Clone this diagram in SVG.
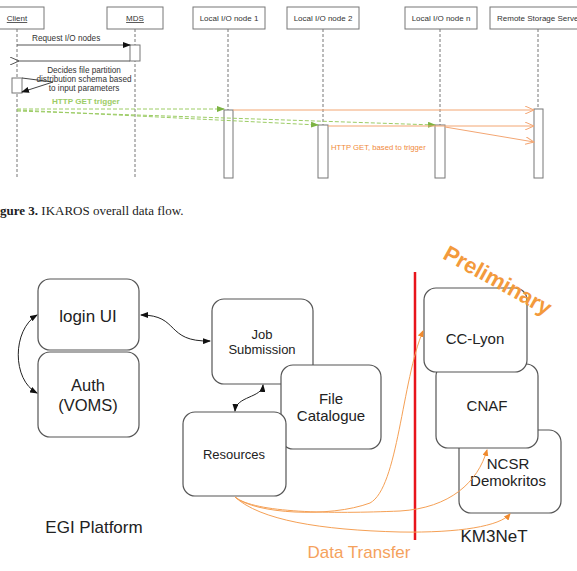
<svg xmlns="http://www.w3.org/2000/svg" width="577" height="571" viewBox="0 0 577 571">
<style>
.bx{fill:#fff;stroke:#777;stroke-width:1}
.ll{stroke:#777;stroke-width:1;stroke-dasharray:3,2;fill:none}
.act{fill:#fff;stroke:#777;stroke-width:1}
.t8{font-family:"Liberation Sans",Arial,sans-serif;font-size:8px;fill:#333;text-anchor:middle}
.msg{font-family:"Liberation Sans",Arial,sans-serif;font-size:8.2px;fill:#333}
.gr{stroke:#9ccc65;stroke-width:1;stroke-dasharray:4,2;fill:none}
.or{stroke:#f3a673;stroke-width:1;fill:none}
.rb{fill:#fff;stroke:#555;stroke-width:1.2}
.lb{font-family:"Liberation Sans",Arial,sans-serif;fill:#222;text-anchor:middle}
.blk{stroke:#222;stroke-width:1;fill:none}
.oc{stroke:#f5a055;stroke-width:1;fill:none}
</style>
<defs>
<marker id="ab" markerWidth="8" markerHeight="6" refX="7" refY="3" orient="auto-start-reverse" markerUnits="userSpaceOnUse"><path d="M0,0 L8,3 L0,6 z" fill="#111"/></marker>
<marker id="ao" markerWidth="10" markerHeight="8" refX="9" refY="4" orient="auto" markerUnits="userSpaceOnUse"><path d="M0,0 L9,4 L0,8" fill="none" stroke="#f3a673" stroke-width="1"/></marker>
<marker id="aopen" markerWidth="10" markerHeight="8" refX="1" refY="4" orient="auto-start-reverse" markerUnits="userSpaceOnUse"><path d="M9,0 L0,4 L9,8" fill="none" stroke="#555" stroke-width="1"/></marker>
<marker id="ag" markerWidth="8" markerHeight="6" refX="7" refY="3" orient="auto" markerUnits="userSpaceOnUse"><path d="M0,0 L8,3 L0,6 z" fill="#7cb342"/></marker>
<marker id="af" markerWidth="7" markerHeight="6" refX="6" refY="3" orient="auto" markerUnits="userSpaceOnUse"><path d="M0,0 L7,3 L0,6 z" fill="#f08a2e"/></marker>
</defs>

<!-- Sequence diagram -->
<g id="client">
<rect class="bx" x="-11" y="7" width="55" height="22"/>
<text class="t8" x="17" y="21" text-decoration="underline">Client</text>
<line class="ll" x1="17" y1="29" x2="17" y2="178"/>
<rect class="act" x="12" y="78" width="10" height="15"/>
</g>
<g id="mds">
<rect class="bx" x="107" y="7" width="56" height="22"/>
<text class="t8" x="135" y="21" text-decoration="underline">MDS</text>
<line class="ll" x1="135" y1="29" x2="135" y2="178"/>
<rect class="act" x="130" y="45" width="10" height="16"/>
</g>
<g id="node1">
<rect class="bx" x="193" y="7" width="72" height="22"/>
<text class="t8" x="229" y="21">Local I/O node 1</text>
<line class="ll" x1="228" y1="29" x2="228" y2="110"/>
<rect class="act" x="224" y="110" width="9" height="68"/>
</g>
<g id="node2">
<rect class="bx" x="287" y="7" width="72" height="22"/>
<text class="t8" x="323" y="21">Local I/O node 2</text>
<line class="ll" x1="323" y1="29" x2="323" y2="125"/>
<rect class="act" x="318" y="125" width="10" height="53"/>
</g>
<g id="noden">
<rect class="bx" x="405" y="7" width="72" height="22"/>
<text class="t8" x="441" y="21">Local I/O node n</text>
<line class="ll" x1="440" y1="29" x2="440" y2="125"/>
<rect class="act" x="435" y="125" width="10" height="53"/>
</g>
<g id="remote">
<rect class="bx" x="490" y="7" width="100" height="22"/>
<text x="497" y="21" font-family="'Liberation Sans',Arial,sans-serif" font-size="8" fill="#333">Remote Storage Serve</text>
<line class="ll" x1="538" y1="29" x2="538" y2="109"/>
<rect class="act" x="534" y="109" width="9" height="69"/>
</g>

<g id="seq-connectors">
<line x1="17" y1="45" x2="130" y2="45" stroke="#555" stroke-width="1" marker-end="url(#ab)"/>
<text class="msg" x="32" y="41">Request I/O nodes</text>
<line x1="130" y1="61" x2="18" y2="61" stroke="#555" stroke-width="1" marker-end="url(#aopen)"/>
<polyline points="22,78 53,82 22,92" fill="none" stroke="#444" stroke-width="1" marker-end="url(#ab)"/>
<text class="msg" text-anchor="middle" x="84" y="73">Decides file partition</text>
<text class="msg" text-anchor="middle" x="84" y="82">distribution schema based</text>
<text class="msg" text-anchor="middle" x="84" y="91">to input parameters</text>
<text x="52" y="104" font-family="'Liberation Sans',Arial,sans-serif" font-size="8.1" font-weight="bold" fill="#9ccc65">HTTP GET trigger</text>
<line class="gr" x1="17" y1="109" x2="224" y2="109" marker-end="url(#ag)"/>
<line class="gr" x1="17" y1="110" x2="318" y2="125" marker-end="url(#ag)"/>
<line class="gr" x1="17" y1="111" x2="435" y2="125" marker-end="url(#ag)"/>
<line class="or" x1="233" y1="110" x2="534" y2="110" marker-end="url(#ao)"/>
<line class="or" x1="328" y1="126" x2="534" y2="126" marker-end="url(#ao)"/>
<line class="or" x1="445" y1="127" x2="534" y2="142" marker-end="url(#ao)"/>
<text x="331" y="150" font-family="'Liberation Sans',Arial,sans-serif" font-size="7.7" fill="#f08a3c">HTTP GET, based to trigger</text>
</g>

<text x="0" y="215" font-family="'Liberation Serif','Times New Roman',serif" font-size="13" fill="#222"><tspan font-weight="bold">gure 3.</tspan> IKAROS overall data flow.</text>

<!-- Lower diagram -->
<g id="login">
<rect class="rb" x="38" y="279" width="101" height="71" rx="12"/>
<text class="lb" x="88" y="322" font-size="17">login UI</text>
</g>
<g id="auth">
<rect class="rb" x="38" y="352" width="101" height="85" rx="12"/>
<text class="lb" x="88" y="391" font-size="16.5">Auth</text>
<text class="lb" x="88" y="411" font-size="16.5">(VOMS)</text>
</g>
<g id="jobsub">
<rect class="rb" x="212" y="299" width="101" height="85" rx="12"/>
<text class="lb" x="262" y="339" font-size="13">Job</text>
<text class="lb" x="262" y="354" font-size="13">Submission</text>
</g>
<g id="filecat">
<rect class="rb" x="281" y="365" width="100" height="84" rx="12"/>
<text class="lb" x="331" y="404" font-size="15">File</text>
<text class="lb" x="331" y="421" font-size="15">Catalogue</text>
</g>
<g id="resources">
<rect class="rb" x="183" y="412" width="103" height="84" rx="12"/>
<text class="lb" x="234" y="459" font-size="13">Resources</text>
</g>
<g id="ncsr">
<rect class="rb" x="459" y="430" width="102" height="83" rx="12"/>
<text class="lb" x="508" y="469" font-size="15">NCSR</text>
<text class="lb" x="508" y="486" font-size="15">Demokritos</text>
</g>
<g id="cnaf">
<rect class="rb" x="436" y="364" width="102" height="84" rx="12"/>
<text class="lb" x="487" y="411" font-size="15">CNAF</text>
</g>
<g id="cclyon">
<rect class="rb" x="424" y="288" width="103" height="84" rx="12"/>
<text class="lb" x="475" y="344" font-size="15">CC-Lyon</text>
</g>

<line x1="415" y1="272" x2="415" y2="540" stroke="#e8141b" stroke-width="2.5"/>
<text transform="translate(498,280) rotate(29)" x="0" y="8" text-anchor="middle" font-family="'Liberation Sans',Arial,sans-serif" font-size="22" font-weight="bold" fill="#f39a3c">Preliminary</text>
<text class="lb" x="94" y="533" font-size="17">EGI Platform</text>
<text class="lb" x="494" y="542" font-size="17">KM3NeT</text>
<text x="359" y="558" text-anchor="middle" font-family="'Liberation Sans',Arial,sans-serif" font-size="17" fill="#f5a25d">Data Transfer</text>

<g id="connectors">
<path class="blk" d="M37,315 C12,330 12,380 37,393" marker-start="url(#ab)" marker-end="url(#ab)"/>
<path class="blk" d="M141,315 C180,315 165,342 210,341" marker-start="url(#ab)" marker-end="url(#ab)"/>
<path class="blk" d="M263,385 C262,398 236,396 235,411" marker-start="url(#ab)" marker-end="url(#ab)"/>
<path class="oc" d="M235,497 C255,514 330,518 370,503 C398,488 402,380 423,331" marker-end="url(#af)"/>
<path class="oc" d="M235,497 C255,513 330,514 400,511 C450,508 478,482 487,450" marker-end="url(#af)"/>
<path class="oc" d="M235,497 C260,520 320,530 400,532 C460,533 500,526 510,514" marker-end="url(#af)"/>
</g>
</svg>
